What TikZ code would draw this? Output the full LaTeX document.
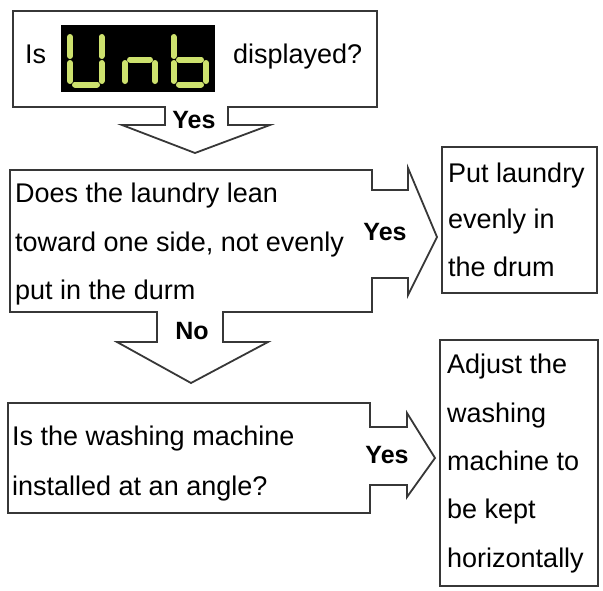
\documentclass[tikz,border=0pt]{standalone}
\usepackage{fontspec}
\setmainfont{Liberation Sans}
\definecolor{linegray}{RGB}{55,55,55}
\definecolor{segcol}{RGB}{205,225,110}
\tikzset{
  outline/.style={draw=linegray, line width=1.8pt, line join=miter},
  qtext/.style={anchor=base west, inner sep=0pt, font=\fontsize{27}{32}\selectfont},
  ans/.style={anchor=base, inner sep=0pt, font=\bfseries\fontsize{25}{30}\selectfont},
  seg/.style={draw=segcol, line width=6pt, line cap=round},
}
\begin{document}
\begin{tikzpicture}[x=1pt,y=-1pt]
\useasboundingbox (0,0) rectangle (603,590);
% box 1 with down arrow
\draw[outline] (13,11) -- (377,11) -- (377,107) -- (228,107) -- (228,125) -- (270,125)
  -- (195,153) -- (122,125) -- (165,125) -- (165,107) -- (13,107) -- cycle;
% display
\fill[black] (61,25) rectangle (215,92);
% U
\draw[seg] (70,37) -- (70,56);
\draw[seg] (70,63) -- (70,81);
\draw[seg] (101.5,37) -- (101.5,56);
\draw[seg] (101.5,63) -- (101.5,81);
\draw[seg] (75,84.5) -- (97,84.5);
% n
\draw[seg] (125,63) -- (125,81);
\draw[seg] (155,63) -- (155,81);
\draw[seg] (130,59.5) -- (150,59.5);
% b
\draw[seg] (173.5,37) -- (173.5,56);
\draw[seg] (173.5,63) -- (173.5,81);
\draw[seg] (206,63) -- (206,81);
\draw[seg] (179,59.5) -- (201,59.5);
\draw[seg] (179,84.5) -- (201,84.5);
\node[qtext] (is) at (25,63) {Is};
\node[qtext] (disp) at (233,63) {displayed?};
\node[ans] (yes1) at (194,128) {Yes};
% box 2 with right and down arrows
\draw[outline] (10,170) -- (372,170) -- (372,190) -- (408,190) -- (408,168) -- (437,237)
  -- (408,295) -- (408,278) -- (372,278) -- (372,312) -- (223,312) -- (223,342)
  -- (268,342) -- (191,383) -- (117,342) -- (157,342) -- (157,312) -- (10,312) -- cycle;
\node[qtext] (q2a) at (15,202) {Does the laundry lean};
\node[qtext] (q2b) at (15,251) {toward one side, not evenly};
\node[qtext] (q2c) at (15,299) {put in the durm};
\node[ans] (yes2) at (385,240) {Yes};
\node[ans] (no) at (192,339) {No};
% box 3
\draw[outline] (442,147) rectangle (597,293);
\node[qtext] (a1a) at (448,182) {Put laundry};
\node[qtext] (a1b) at (448,228) {evenly in};
\node[qtext] (a1c) at (448,276) {the drum};
% box 4 with right arrow
\draw[outline] (8,403) -- (370,403) -- (370,427) -- (407,427) -- (407,413) -- (435,458)
  -- (407,497) -- (407,485) -- (370,485) -- (370,513) -- (8,513) -- cycle;
\node[qtext] (q3a) at (12,445) {Is the washing machine};
\node[qtext] (q3b) at (12,495) {installed at an angle?};
\node[ans] (yes3) at (387,463) {Yes};
% box 5
\draw[outline] (440,340) rectangle (598,586);
\node[qtext] (a2a) at (447,373) {Adjust the};
\node[qtext] (a2b) at (447,422) {washing};
\node[qtext] (a2c) at (447,470) {machine to};
\node[qtext] (a2d) at (447,518) {be kept};
\node[qtext] (a2e) at (447,567) {horizontally};
\end{tikzpicture}
\end{document}
